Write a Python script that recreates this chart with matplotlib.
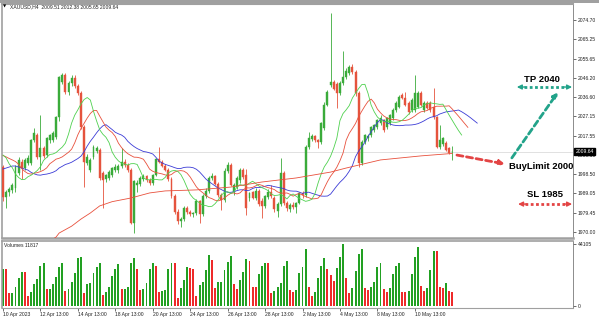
import matplotlib
matplotlib.use('Agg')
import matplotlib.pyplot as plt
import numpy as np
from matplotlib.patches import Rectangle

# XAUUSD H4, one candle per bar, 10 Apr 2023 13:00 .. 12 May 2023 13:00
opens = [2002.0, 1987.2, 1989.7, 1990.7, 1991.7, 1999.1, 2004.6, 2001.5, 2004.1, 2004.1,
         2015.4, 2017.9, 2007.0, 2011.5, 2008.0, 2015.4, 2015.4, 2016.9, 2026.8, 2044.1,
         2047.5, 2039.1, 2043.6, 2046.0, 2042.1, 2038.6, 2021.9, 2004.1, 2000.6, 2007.0,
         2010.0, 2010.5, 1999.1, 1996.0, 1996.7, 1998.1, 2000.6,
         2000.6, 2002.5, 2004.5, 2003.0, 2000.6, 1974.5, 1993.0, 1993.5, 1996.0, 1997.5,
         1995.5, 1994.0, 1998.2, 2006.0, 2004.8, 2002.5, 2000.8, 1996.0, 1988.0, 1980.0,
         1975.5, 1976.5, 1982.0, 1980.0, 1978.8, 1979.5, 1985.5, 1979.0, 1988.0, 1990.5,
         1996.5, 1997.5, 1993.8, 1988.3, 1986.0, 2000.0,
         2003.0, 1990.0, 1992.0, 1995.5, 2000.5, 1998.2, 1986.8, 1990.0, 1987.0, 1990.5,
         1985.5, 1983.0, 1987.5, 1990.0, 1987.0, 1980.5, 1984.0, 1999.0, 1984.5, 1981.5,
         1983.5, 1982.5, 1984.5, 1989.3, 1988.5, 2012.0, 2016.0, 2017.5, 2015.5, 2014.5,
         2021.3, 2032.7, 2042.6, 2044.1, 2043.0, 2038.5, 2043.5, 2046.5, 2048.5, 2051.5,
         2049.0, 2038.5, 2004.0,
         2014.5, 2016.5, 2017.9, 2020.4, 2021.9, 2023.8, 2025.3, 2022.0, 2023.8, 2026.3,
         2030.3, 2031.7, 2037.7, 2036.2, 2033.7, 2030.3, 2030.3, 2031.7, 2038.7, 2030.3,
         2033.7, 2033.7, 2031.7, 2026.8, 2012.0, 2013.5, 2014.0, 2011.5, 2009.51]
highs = [2003.0, 1990.7, 1992.0, 1994.0, 2003.0, 2007.0, 2006.0, 2006.5, 2008.0, 2016.0,
         2021.5, 2019.0, 2027.8, 2012.5, 2017.0, 2018.5, 2020.0, 2027.5, 2047.0, 2048.7,
         2048.5, 2044.5, 2047.5, 2047.5, 2043.0, 2039.5, 2023.0, 2008.5, 2006.5, 2013.0,
         2012.5, 2011.5, 2000.0, 1998.5, 2000.5, 2002.0, 2003.5,
         2003.5, 2011.5, 2006.0, 2004.0, 2001.5, 1995.7, 1995.5, 1997.5, 1998.5, 1998.0,
         1996.5, 1998.5, 2006.5, 2012.0, 2005.5, 2003.5, 2001.5, 1997.0, 1989.0, 1981.5,
         1977.5, 1983.0, 1983.0, 1981.0, 1980.0, 1986.5, 1986.0, 1989.0, 1991.5, 1997.5,
         1999.0, 1998.0, 1994.5, 1989.5, 2001.5, 2004.5,
         2004.0, 1994.0, 1997.5, 2001.6, 2001.6, 2001.0, 1990.0, 1990.5, 1991.5, 1991.0,
         1987.0, 1988.5, 1991.0, 1993.0, 1988.0, 1985.0, 2006.6, 2000.0, 1985.5, 1984.5,
         1985.0, 1985.0, 1990.0, 1990.5, 2013.0, 2019.4, 2018.5, 2018.0, 2016.0, 2024.5,
         2034.2, 2040.0, 2078.2, 2045.0, 2044.0, 2044.5, 2059.5, 2051.0, 2052.5, 2053.0,
         2050.0, 2039.5, 2015.5,
         2018.5, 2018.5, 2022.5, 2023.5, 2026.0, 2027.8, 2026.0, 2026.8, 2028.5, 2031.0,
         2034.5, 2037.5, 2038.5, 2039.1, 2034.5, 2036.0, 2047.5, 2039.5, 2039.5, 2034.5,
         2034.5, 2034.5, 2041.1, 2027.5, 2022.9, 2017.0, 2015.0, 2012.0, 2012.38]
lows = [1985.5, 1981.8, 1988.0, 1989.5, 1990.0, 1998.0, 1996.0, 2000.5, 2003.0, 2003.0,
        2014.5, 2006.0, 2000.6, 2006.5, 2007.0, 2014.0, 2014.5, 2016.0, 2025.0, 2043.0,
        2038.0, 2037.5, 2042.0, 2041.0, 2037.5, 2021.0, 1992.2, 2003.0, 1999.5, 2006.0,
        2009.0, 1995.5, 1981.8, 1994.5, 1995.5, 1997.0, 1999.5,
        1999.0, 2001.5, 2002.0, 1999.5, 1974.0, 1969.5, 1990.0, 1992.5, 1995.0, 1994.5,
        1993.0, 1993.0, 1997.5, 2004.0, 2002.0, 2000.0, 1995.0, 1987.0, 1979.0, 1974.0,
        1972.5, 1975.5, 1979.0, 1978.0, 1977.5, 1978.5, 1974.5, 1978.0, 1987.0, 1989.5,
        1995.5, 1993.0, 1987.5, 1981.0, 1985.0, 1999.0,
        1992.5, 1988.5, 1991.0, 1994.0, 1996.0, 1978.4, 1985.5, 1986.5, 1986.0, 1983.0,
        1976.9, 1982.0, 1986.5, 1987.0, 1980.0, 1977.5, 1983.0, 1983.5, 1980.5, 1980.0,
        1981.5, 1979.4, 1984.0, 1987.0, 1987.5, 2011.0, 2015.0, 2014.5, 2011.5, 2013.5,
        2020.5, 2032.0, 2041.5, 2040.0, 2031.2, 2037.5, 2042.5, 2045.5, 2047.5, 2048.0,
        2037.0, 2002.0, 2003.0,
        2013.5, 2015.0, 2017.0, 2019.5, 2021.0, 2023.0, 2019.5, 2021.0, 2023.0, 2025.5,
        2029.5, 2031.0, 2035.5, 2032.0, 2028.5, 2029.5, 2029.5, 2031.0, 2032.0, 2029.5,
        2030.8, 2029.5, 2026.0, 2011.5, 2011.0, 2012.5, 2010.0, 2008.5, 2005.65]
closes = [1987.2, 1989.7, 1991.2, 1993.2, 2002.0, 2005.5, 2001.5, 2005.5, 2006.5, 2015.4,
          2018.9, 2007.0, 2011.5, 2007.5, 2016.4, 2017.9, 2018.9, 2026.8, 2046.5, 2047.5,
          2039.1, 2043.6, 2046.0, 2042.1, 2038.6, 2021.9, 2004.6, 2007.0, 2005.6, 2012.0,
          2011.5, 1996.7, 1995.7, 1998.1, 1999.6, 2001.5, 2002.0,
          2002.5, 2004.5, 2003.0, 2000.6, 1974.5, 1995.0, 1994.2, 1996.5, 1997.5, 1995.5,
          1994.0, 1998.2, 2006.0, 2004.8, 2002.5, 2000.8, 1996.0, 1988.0, 1980.0, 1975.5,
          1976.5, 1982.0, 1980.0, 1978.8, 1979.5, 1985.5, 1979.0, 1988.0, 1990.5, 1996.5,
          1997.5, 1993.8, 1988.3, 1986.0, 2000.0, 2003.0,
          1993.2, 1993.0, 1996.5, 2000.5, 1997.0, 1982.0, 1989.5, 1987.0, 1990.5, 1984.0,
          1983.0, 1987.8, 1990.0, 1988.0, 1981.5, 1984.0, 1999.0, 1984.5, 1982.0, 1983.5,
          1982.5, 1984.5, 1989.3, 1988.5, 2012.0, 2016.5, 2017.5, 2015.5, 2014.5, 2023.8,
          2032.7, 2039.1, 2044.1, 2040.8, 2038.5, 2043.5, 2046.5, 2049.5, 2051.5, 2049.0,
          2038.5, 2004.0, 2014.5,
          2017.9, 2017.5, 2021.9, 2022.9, 2025.3, 2026.3, 2020.4, 2026.3, 2027.8, 2030.3,
          2033.7, 2036.7, 2036.2, 2032.7, 2029.3, 2035.2, 2038.7, 2038.7, 2032.7, 2033.7,
          2031.2, 2030.3, 2026.8, 2012.0, 2015.4, 2016.4, 2010.5, 2009.0, 2009.64]
volumes = [26300, 26000, 9000, 9100, 13300, 19700, 24400, 23900, 7100, 10200,
           15600, 19200, 28400, 30800, 11900, 12100, 15600, 20900, 27500, 30800,
           10700, 11900, 16800, 23200, 33900, 35100, 9000, 15400, 16600, 23200,
           28000, 30300, 7800, 9700, 13300, 21600, 26500, 29600, 11900, 12000,
           13300, 30300, 34400, 26300, 11400, 12100, 16600, 26100, 30300, 28700,
           10000, 10700, 11400, 26300, 30800, 30300, 5500, 12600, 18500, 28000,
           27300, 26100, 7100, 14900, 16800, 25600, 36300, 32700, 12600, 16800,
           16900, 25600, 31500, 35600, 15400, 11900, 18500, 24400, 33200, 32200,
           13300, 13200, 22600, 28700, 30800, 30300, 9000, 10700, 13300, 16100,
           28700, 32000, 11400, 9700, 11400,
           23200, 28000, 40300, 13700, 7100, 10200, 20100, 28400, 33900, 26300,
           22000, 18000, 27300, 35100, 44100, 20100, 9500, 12600, 25100, 37000,
           40300, 12600, 11400, 13700, 17300, 28000, 30300, 12100, 10200, 12600,
           22800, 28400, 30800, 10200, 10100, 10900, 22800, 35100, 42200, 14200,
           10900, 12600, 25600, 39300, 39100, 13300, 12600, 16600, 10900, 9800]

date_ticks = [0, 12, 24, 36, 48, 60, 72, 84, 96, 108, 120, 132]
date_labels = ['10 Apr 2023', '12 Apr 13:00', '14 Apr 13:00', '18 Apr 13:00', '20 Apr 13:00',
               '24 Apr 13:00', '26 Apr 13:00', '28 Apr 13:00', '2 May 13:00', '4 May 13:00',
               '8 May 13:00', '10 May 13:00']
price_ticks = [2074.70, 2065.25, 2055.65, 2046.20, 2036.60, 2027.15, 2017.55,
               2008.10, 1998.50, 1989.05, 1979.45, 1970.00]

# Alligator lines (SMMA of median price); *_pre = values drawn before the first bar
lips_pre = [2008.0, 2006.6, 2003.6]
teeth_pre = [2007.8, 2007.1, 2006.3, 2005.6, 2004.8]
jaw_pre = [2001.1, 2001.6, 2002.1, 2002.6, 2002.6, 2002.1, 2001.6, 2001.1]

# slow moving average
long_ma_idx = [15, 17, 18, 22, 25, 28, 31, 35, 41, 47, 52, 62, 73, 83, 94, 105, 110, 121, 134, 144]
long_ma_val = [1965.5, 1967.5, 1969.5, 1972.9, 1976.4, 1979.4, 1982.9, 1985.0, 1986.8, 1989.3,
               1990.3, 1990.8, 1992.2, 1994.7, 1996.7, 1999.6, 2001.6, 2005.6, 2007.6, 2008.8]

last_price = 2009.64

GREEN = '#3aab3a'
RED = '#e5533d'
SMALL = ['Liberation Sans', 'DejaVu Sans']
BOLD = ['Liberation Sans', 'DejaVu Sans']


def smma(values, n, start):
    out = []
    v = start
    for p in values:
        v = (v * (n - 1) + p) / n
        out.append(v)
    return out


o = np.array(opens)
h = np.array(highs)
l = np.array(lows)
c = np.array(closes)
x = np.arange(len(c))
median = (h + l) / 2

W, H = 599, 319
fig = plt.figure(figsize=(W / 100, H / 100), dpi=100)
fig.patch.set_facecolor('white')

ax = fig.add_axes([2 / W, 1 - 238 / H, 571 / W, 234 / H])
axv = fig.add_axes([2 / W, 1 - 308 / H, 571 / W, 67 / H])

xlim = (-0.32, 182.7)

# --- price panel ---
ax.axhline(last_price, color='#d4d4d4', lw=0.5, zorder=1)

up = c >= o
cols = np.where(up, GREEN, RED)
ax.vlines(x, l, h, colors=cols, lw=0.6, zorder=2)
body = np.maximum(np.abs(c - o), 0.25)
ax.bar(x, body, bottom=np.minimum(o, c), width=0.62, color=cols,
       edgecolor=cols, linewidth=0.3, zorder=3)

lips = lips_pre + smma(median, 5, lips_pre[-1])
teeth = teeth_pre + smma(median, 8, teeth_pre[-1])
jaw = jaw_pre + smma(median, 13, jaw_pre[-1])
ax.plot(np.arange(len(jaw)), jaw, color='#3b3bd6', lw=0.6, zorder=4)
ax.plot(np.arange(len(teeth)), teeth, color='#e8503c', lw=0.6, zorder=4)
ax.plot(np.arange(len(lips)), lips, color='#4fd14f', lw=0.6, zorder=4)
ax.plot(long_ma_idx, long_ma_val, color='#e8503c', lw=0.6, zorder=4)

ax.set_xlim(*xlim)
ax.set_ylim(1967.05, 2082.6)
ax.yaxis.tick_right()
ax.set_yticks(price_ticks)
ax.set_yticklabels([f'{p:.2f}' for p in price_ticks], fontsize=3.6, family=SMALL, color='#222222')
ax.tick_params(axis='y', length=2, width=0.4, pad=1.5)
ax.set_xticks([])

# current price tag
ax.text(1.004, last_price, f'{last_price:.2f}', transform=ax.get_yaxis_transform(),
        fontsize=3.6, family=SMALL, color='white', va='center', ha='left',
        bbox=dict(facecolor='black', edgecolor='black', pad=0.6), zorder=10, clip_on=False)

# trade idea annotations
red_c = '#e34444'
teal_c = '#22a38a'
ax.annotate('', xy=(160.9, 2003.6), xytext=(145.5, 2008.0),
            arrowprops=dict(arrowstyle='-|>', color=red_c, lw=2.0, linestyle=(0, (2.2, 1.3)),
                            mutation_scale=7, shrinkA=0, shrinkB=0))
ax.annotate('', xy=(177.9, 2039.1), xytext=(163.1, 2006.6),
            arrowprops=dict(arrowstyle='-|>', color=teal_c, lw=2.0, linestyle=(0, (2.2, 1.3)),
                            mutation_scale=7, shrinkA=0, shrinkB=0))

for y_lvl, x0, x1, col in [(2041.6, 164.7, 182.4, teal_c), (1983.8, 165.1, 182.4, red_c)]:
    ax.plot([x0 + 2.2, x1 - 2.2], [y_lvl, y_lvl], color=col, lw=2.0,
            linestyle=(0, (1, 0.9)), solid_capstyle='butt', zorder=6)
    ax.annotate('', xy=(x0, y_lvl), xytext=(x0 + 2.6, y_lvl),
                arrowprops=dict(arrowstyle='-|>', color=col, lw=1.0, mutation_scale=7,
                                shrinkA=0, shrinkB=0))
    ax.annotate('', xy=(x1, y_lvl), xytext=(x1 - 2.6, y_lvl),
                arrowprops=dict(arrowstyle='-|>', color=col, lw=1.0, mutation_scale=7,
                                shrinkA=0, shrinkB=0))

ax.text(162.3, 2002.6, 'BuyLimit 2000', fontsize=6.8, fontweight='bold', family=BOLD,
        ha='left', va='center', color='black', zorder=7)
ax.text(172.8, 2045.3, 'TP 2040', fontsize=6.8, fontweight='bold', family=BOLD,
        ha='center', va='center', color='black', zorder=7)
ax.text(173.7, 1988.5, 'SL 1985', fontsize=6.8, fontweight='bold', family=BOLD,
        ha='center', va='center', color='black', zorder=7)

# --- volume panel ---
vcols = ['#22a022' if i == 0 or volumes[i] >= volumes[i - 1] else '#ee2a2a'
         for i in range(len(volumes))]
axv.bar(np.arange(len(volumes)), volumes, width=0.62, color=vcols, linewidth=0)
axv.set_xlim(*xlim)
axv.set_ylim(-1423, 46238)
axv.yaxis.tick_right()
axv.set_yticks([0, 44105])
axv.set_yticklabels(['0', '44105'], fontsize=3.6, family=SMALL, color='#222222')
axv.tick_params(axis='y', length=2, width=0.4, pad=1.5)
axv.set_xticks(date_ticks)
axv.set_xticklabels(date_labels, fontsize=3.6, family=SMALL, color='#222222', ha='left')
axv.tick_params(axis='x', length=2, width=0.4, pad=1.2)
axv.text(0.004, 0.975, 'Volumes 11817', transform=axv.transAxes, fontsize=3.6,
         family=SMALL, va='top', ha='left', color='#222222')

for a in (ax, axv):
    a.set_facecolor('white')
    a.spines['left'].set_color('#a0a0a0')
    a.spines['left'].set_linewidth(1.2)
    a.spines['right'].set_color('#7a7a7a')
    a.spines['right'].set_linewidth(0.6)
ax.spines['top'].set_color('#a0a0a0')
ax.spines['top'].set_linewidth(1.5)
ax.spines['bottom'].set_color('#a0a0a0')
ax.spines['bottom'].set_linewidth(1.8)
axv.spines['top'].set_color('#a0a0a0')
axv.spines['top'].set_linewidth(1.2)
axv.spines['bottom'].set_color('#a0a0a0')
axv.spines['bottom'].set_linewidth(0.8)

# top frame band of the terminal window
fig.add_artist(Rectangle((0, 1 - 2.5 / H), 1, 2.5 / H, transform=fig.transFigure,
                         facecolor='#a0a0a0', edgecolor='none'))

# header
fig.text(3 / W, 1 - 7 / H, '\u25bc', fontsize=3, family=['DejaVu Sans'], va='center', color='black')
fig.text(10 / W, 1 - 7 / H, 'XAUUSD,H4  2009.51 2012.38 2005.65 2009.64', fontsize=3.6,
         family=SMALL, va='center', ha='left', color='#222222')

fig.savefig('out.png', dpi=100, facecolor='white')
